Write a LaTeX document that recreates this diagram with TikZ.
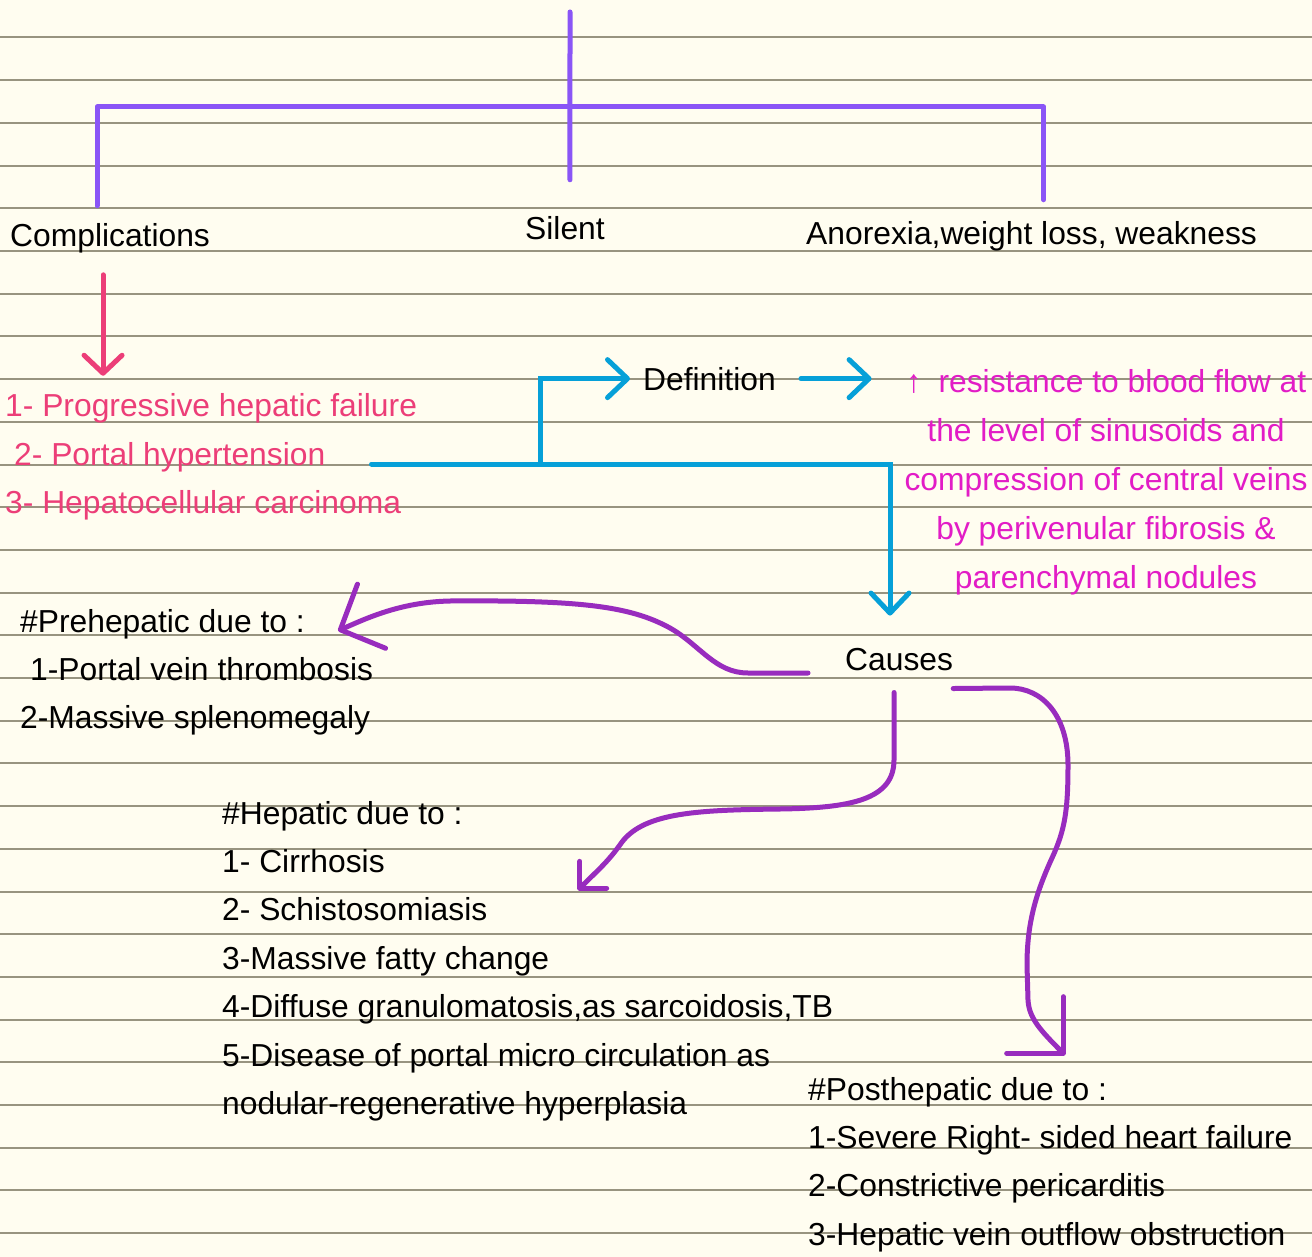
\documentclass[tikz,border=0pt]{standalone}
\usepackage{fontspec}
\setmainfont{Liberation Sans}
\usetikzlibrary{arrows.meta}
\usepackage{xcolor}

\definecolor{paper}{RGB}{255,253,240}
\definecolor{rulegray}{RGB}{152,148,128}
\definecolor{treeviolet}{RGB}{138,85,246}
\definecolor{comppink}{RGB}{236,62,120}
\definecolor{defmagenta}{RGB}{226,28,198}
\definecolor{flowcyan}{RGB}{6,160,216}
\definecolor{causepurple}{RGB}{152,44,190}
\newcommand{\notefont}{\fontsize{31.8}{48.5}\selectfont}

\begin{document}
\begin{tikzpicture}[x=1pt, y=-1pt,
  ruling/.style={draw=rulegray, line width=2pt},
  txt/.style={anchor=base west, inner sep=0pt, font=\notefont, text=black},
  pinktxt/.style={txt, text=comppink},
  deftxt/.style={txt, anchor=base, text=defmagenta},
  topline/.style={draw=treeviolet, line width=5pt, line cap=round, line join=round},
  pinkarrow/.style={draw=comppink, line width=5pt, line cap=round, -{Straight Barb[length=18pt,width=38pt,round]}},
  flow/.style={draw=flowcyan, line width=5pt, line cap=round, -{Straight Barb[length=20pt,width=38pt,round]}},
  cause/.style={draw=causepurple, line width=5pt, line cap=round, line join=round}
]
% paper
\fill[paper] (0,0) rectangle (1312,1257);
\useasboundingbox (0,0) rectangle (1312,1257);
\foreach \k in {0,...,28}
  \draw[ruling] (0,{37.5+42.7*\k}) -- (1312,{37.5+42.7*\k});

% texts
\node[txt] (compl) at (10,247) {Complications};
\node[txt] (silent) at (525,240) {Silent};
\node[txt] (anorexia) at (806,245) {Anorexia,weight loss, weakness};
\node[pinktxt] (comp1) at (5,416) {1- Progressive hepatic failure};
\node[pinktxt] (comp2) at (14,465) {2- Portal hypertension};
\node[pinktxt] (comp3) at (5,513) {3- Hepatocellular carcinoma};
\node[txt] (defn) at (643,390) {Definition};
\foreach \t [count=\i] in {↑\hspace{8pt} resistance to blood flow at, the level of sinusoids and,
    compression of central veins, by perivenular fibrosis \&, parenchymal nodules}
  \node[deftxt] (resist\i) at (1106,{343+49*\i}) {\t};
\node[txt] (causes) at (845,670) {Causes};
\node[txt] (prehead) at (20,632) {\#Prehepatic due to :};
\node[txt] (pre1) at (30,680) {1-Portal vein thrombosis};
\node[txt] (pre2) at (20,728) {2-Massive splenomegaly};
\node[txt] (hephead) at (222,824) {\#Hepatic due to :};
\foreach \t [count=\i] in {1- Cirrhosis, 2- Schistosomiasis, 3-Massive fatty change,
    {4-Diffuse granulomatosis,as sarcoidosis,TB}, 5-Disease of portal micro circulation as,
    nodular-regenerative hyperplasia}
  \node[txt] (hep\i) at (222,{824+48.4*\i}) {\t};
\node[txt] (posthead) at (808,1100) {\#Posthepatic due to :};
\foreach \t [count=\i] in {1-Severe Right- sided heart failure, 2-Constrictive pericarditis,
    3-Hepatic vein outflow obstruction}
  \node[txt] (post\i) at (808,{1100+48.4*\i}) {\t};

% top bracket
\coordinate (stem) at (570,12);
\coordinate (bar) at (570,107);
\draw[topline] (stem) -- ([xshift=5pt,yshift=37pt]silent.north);
\draw[topline] ([xshift=-13pt,yshift=18pt]compl.north) |- (bar) -| ([xshift=12pt,yshift=22pt]anorexia.north);

% complications
\path (compl.south) ++(-7,0) coordinate (pa);
\draw[pinkarrow, shorten <=21pt, shorten >=17pt] (pa) -- (pa |- comp1.north);

% portal hypertension
\path (comp2.base east) ++(46,-1) coordinate (cstart);
\coordinate (split) at (540,464);
\coordinate (bend) at (890,464);
\draw[flow, shorten >=32pt] (cstart) -- (bend) -- (bend |- causes.north);
\draw[flow, shorten >=13pt] (split) |- (defn.west);
\draw[flow, shorten <=25pt, shorten >=34pt] (defn.east) -- (defn.east -| resist1.west);

% causes
\coordinate (hepend) at (578,890);
\coordinate (postend) at (1065,1055);
\draw[cause, -{Straight Barb[length=34pt,width=70pt,round]}] ([xshift=-37pt,yshift=-3pt]causes.base west) -- (748,673)
  .. controls (715,673) and (700,645) .. (670,628)
  .. controls (630,606) and (580,600) .. (450,601)
  .. controls (400,602) and (365,619) .. ([xshift=33pt,yshift=-7pt]prehead.east);
\draw[cause, shorten <=22pt, -{Straight Barb[length=19pt,width=38pt,round]}] ([xshift=-5pt]causes.south) -- (894,760)
  .. controls (894,800) and (850,808) .. (780,809)
  .. controls (700,810) and (645,812) .. (622,842)
  .. controls (608,862) and (598,870) .. (hepend);
\draw[cause, -{Straight Barb[length=40pt,width=80pt,round]}] ([yshift=-18pt]causes.south east) -- (1010,688)
  .. controls (1042,688) and (1068,715) .. (1068,765)
  .. controls (1068,810) and (1065,830) .. (1052,858)
  .. controls (1035,895) and (1027,925) .. (1027,965) -- (1028,1000)
  .. controls (1029,1018) and (1040,1030) .. (postend);
\end{tikzpicture}
\end{document}
